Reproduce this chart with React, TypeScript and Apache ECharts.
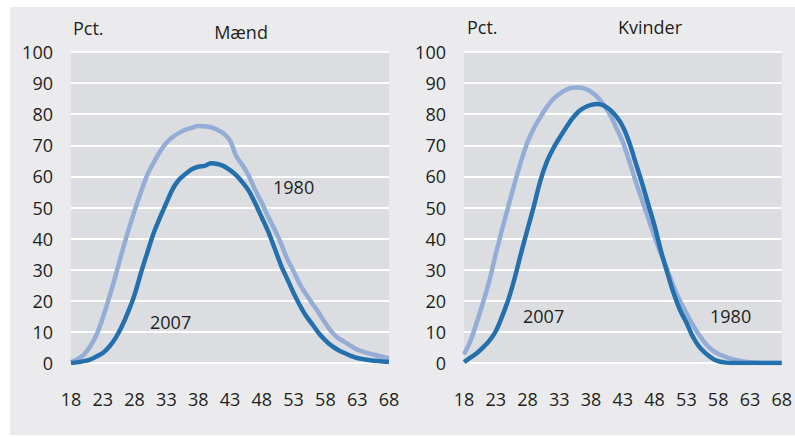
import React, { useEffect, useRef } from "react";
import * as echarts from "echarts";

const ages: string[] = [];
for (let a = 18; a <= 68; a++) ages.push(String(a));

const maend1980 = [
  0.3, 1.2, 2.6, 5.3, 9, 14.5, 21, 28, 35.5, 42.5,
  49, 55, 60.5, 64.5, 68, 70.8, 72.7, 74, 75, 75.6,
  76.2, 76.1, 75.8, 75, 73.8, 71.5, 66.5, 63.5, 60, 55.5,
  51.5, 47, 43, 38.5, 33.5, 29.5, 25.3, 22, 19, 16,
  12.8, 10, 8, 6.8, 5.5, 4.3, 3.6, 3, 2.5, 2, 1.5,
];
const maend2007 = [
  0, 0.2, 0.6, 1.1, 2.1, 3.2, 5.2, 8, 11.8, 16.5,
  22, 29, 35.5, 41.8, 46.8, 51.5, 56, 59, 60.8, 62.3,
  63.1, 63.4, 64.2, 64, 63.3, 62, 60.3, 58, 55.2, 51.2,
  46.8, 42.3, 37, 31.5, 27, 22.5, 18.5, 15, 12.3, 9.5,
  7.3, 5.5, 4.2, 3.2, 2.3, 1.6, 1.2, 0.9, 0.7, 0.5, 0.4,
];
const kvinder1980 = [
  2.8, 7, 13, 19.5, 26.5, 35, 43, 50.5, 58, 65,
  71, 75.5, 79, 82.2, 84.8, 86.5, 87.8, 88.5, 88.6, 88.2,
  87.2, 85.5, 83, 79.8, 75.5, 71, 65, 58.5, 52.5, 46.5,
  40.5, 35, 30, 24.5, 20, 16, 12.3, 9, 6.3, 4.3,
  3, 2.1, 1.4, 0.9, 0.5, 0.2, 0.1, 0, 0, 0, 0,
];
const kvinder2007 = [
  0.3, 1.7, 3.1, 5, 7.2, 10.2, 15, 20.5, 27.5, 35.5,
  43, 50.5, 58.5, 64.5, 68.8, 72.3, 75.5, 78.5, 80.8, 82.2,
  83, 83.3, 82.8, 81.4, 79.2, 76, 71, 64.5, 58, 51,
  44, 36, 29, 22.4, 17, 13, 8.5, 5.3, 3.2, 1.6,
  0.6, 0.2, 0, 0, 0, 0, 0, 0, 0, 0, 0,
];

const panelTitles = ["Mænd", "Kvinder"];
const seriesNames = ["1980", "2007"];

const FONT = "Open Sans";
const TEXT = "#231f20";
const DARK = "#2470ae";
const LIGHT = "#93add6";

export default function App() {
  const ref = useRef<HTMLDivElement>(null);
  useEffect(() => {
    if (!ref.current) return;
    const chart = echarts.init(ref.current, undefined, { renderer: "svg" });
    const grids = [
      { left: 71, top: 52, width: 318, height: 311 },
      { left: 464, top: 52, width: 318, height: 311 },
    ];
    const xAxes = grids.map((_, i) => ({
      type: "category" as const,
      gridIndex: i,
      data: ages,
      boundaryGap: false,
      axisLine: { show: false },
      axisTick: { show: false },
      axisLabel: {
        interval: 4,
        margin: 27,
        color: TEXT,
        fontFamily: FONT,
        fontSize: 18,
      },
    }));
    const yAxes = grids.map((_, i) => ({
      type: "value" as const,
      gridIndex: i,
      min: 0,
      max: 100,
      interval: 10,
      axisLine: { show: false },
      axisTick: { show: false },
      axisLabel: { margin: 18, color: TEXT, fontFamily: FONT, fontSize: 18 },
      splitLine: { lineStyle: { color: "#ffffff", width: 2 } },
    }));
    const mk = (name: string, data: number[], idx: number, color: string) => ({
      name,
      type: "line" as const,
      xAxisIndex: idx,
      yAxisIndex: idx,
      data,
      smooth: 0.3,
      symbol: "none",
      lineStyle: { color, width: 4.5 },
      z: color === DARK ? 3 : 2,
    });
    const txt = (text: string, x: number, y: number, align = "left") => ({
      type: "text",
      x,
      y,
      style: {
        text,
        fill: TEXT,
        font: `18px '${FONT}'`,
        textAlign: align,
        textVerticalAlign: "middle",
      },
      z: 10,
    });
    chart.setOption({
      animation: false,
      grid: grids.map((g) => ({
        ...g,
        show: true,
        backgroundColor: "#dcdde0",
        borderWidth: 0,
      })),
      xAxis: xAxes,
      yAxis: yAxes,
      series: [
        mk(seriesNames[0], maend1980, 0, LIGHT),
        mk(seriesNames[1], maend2007, 0, DARK),
        mk(seriesNames[0], kvinder1980, 1, LIGHT),
        mk(seriesNames[1], kvinder2007, 1, DARK),
      ],
      graphic: [
        {
          type: "rect",
          shape: { x: 10, y: 7, width: 785, height: 428 },
          style: { fill: "#ebebed" },
          z: -10,
          silent: true,
        },
        txt("Pct.", 73, 28),
        txt(panelTitles[0], 241, 32, "center"),
        txt("Pct.", 467, 27),
        txt(panelTitles[1], 650, 27, "center"),
        txt(seriesNames[0], 273, 187),
        txt(seriesNames[1], 150, 322),
        txt(seriesNames[1], 523, 316),
        txt(seriesNames[0], 710, 316),
      ],
    });
    return () => chart.dispose();
  }, []);
  return (
    <div
      ref={ref}
      style={{ position: "absolute", left: 0, top: 0, width: 795, height: 437, background: "#ffffff" }}
    />
  );
}
